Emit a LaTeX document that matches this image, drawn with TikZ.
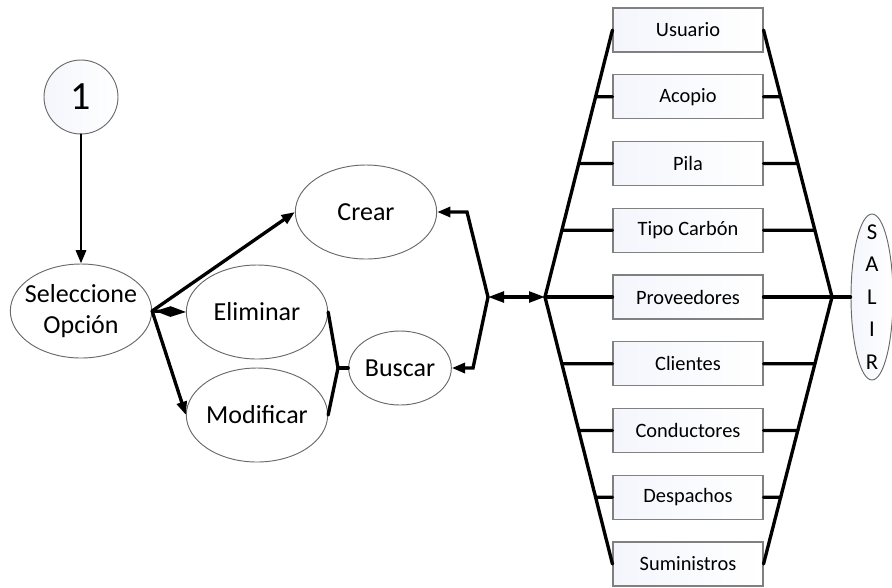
\documentclass[tikz,border=0pt]{standalone}
\usepackage{fontspec}
\setmainfont{Carlito}
\usetikzlibrary{shapes.geometric,arrows.meta}
\definecolor{boxblue}{RGB}{244,246,252}
\definecolor{edgegray}{RGB}{105,105,105}

\begin{document}
\begin{tikzpicture}[x=0.75pt,y=-0.75pt,
	oval/.style={ellipse,draw=edgegray,line width=0.7pt,minimum width=106pt,minimum height=70.5pt,inner sep=0pt},
	ovaltxt/.style={font=\fontsize{19.5}{23.5}\selectfont,align=center},
	soft/.style={left color=boxblue,right color=white},
	menubox/.style={draw=gray,line width=0.8pt,soft,minimum width=112.5pt,minimum height=33pt,font=\fontsize{15.3}{18}\selectfont},
	link/.style={line width=2.5pt,line cap=round},
	arr/.style={link,-{Triangle[length=10pt,width=7.5pt]}}]
			\useasboundingbox (0,0) rectangle (892,587);
			% left part
			\node[circle,draw=edgegray,line width=0.7pt,soft,minimum size=55.5pt,inner sep=0pt,font=\fontsize{30}{36}\selectfont] (one) at (81,97) {1};
			\node[oval,label={[ovaltxt]center:Seleccione\\Opción}] (sel) at (81,311) {};
			\node[oval,label={[ovaltxt]center:Crear}] (crear) at (366,212) {};
			\node[oval,label={[ovaltxt]center:Eliminar}] (elim) at (257,312) {};
			\node[oval,label={[ovaltxt]center:Modificar}] (mod) at (257,415) {};
			\node[oval,minimum width=77pt,minimum height=55.5pt,label={[ovaltxt]center:Buscar}] (buscar) at (400,368) {};
			% menu
			\foreach \name [count=\i] in {Usuario,Acopio,Pila,Tipo Carbón,Proveedores,Clientes,Conductores,Despachos,Suministros}
				\node[menubox] (b\i) at (688,{30+(\i-1)*66.75}) {\name};
			\node[ellipse,draw=edgegray,line width=0.7pt,soft,minimum width=31.5pt,minimum height=124.5pt,inner sep=0pt,
				label={[font=\fontsize{17}{24.4}\selectfont,align=center]center:S\\A\\L\\I\\R}] (salir) at (872,297) {};
			\coordinate (jb) at (338,368);
			\coordinate (jc) at (488,297);
			\coordinate (cu) at (467,212);
			\coordinate (cd) at (473,368);
			\coordinate (jl) at (545,297);
			\coordinate (jr) at (832,297);
			% connectors
			\draw[arr,line width=2.2pt] (one) -- (sel);
			\draw[arr] (sel.east) -- (crear.west);
			\draw[link,-{Diamond[length=23pt,width=8pt]}] (sel.east) -- (elim.west);
			\draw[arr] (sel.east) -- (mod.west);
			\draw[link] (elim.east) -- (jb) -- (mod.east);
			\draw[link] (jb) -- (buscar.west);
			\draw[arr] (jc) -- (cu) -- (crear.east);
			\draw[arr] (jc) -- (cd) -- (buscar.east);
			\draw[link,{Triangle[length=12pt,width=8pt]}-{Triangle[length=12pt,width=8pt]}] (jc) -- (jl);
			\draw[link] (b1.west) -- (jl) -- (b9.west);
			\draw[link] (b1.east) -- (jr) -- (b9.east);
			\draw[link] (jl) -- (b5.west);
			\draw[link] (b5.east) -- (salir.west);
			\foreach \i in {2,3,4} {
				\draw[link] (b\i.west) -- (intersection of jl--b1.west and b\i.west--b\i.east);
				\draw[link] (b\i.east) -- (intersection of jr--b1.east and b\i.west--b\i.east);
			}
			\foreach \i in {6,7,8} {
				\draw[link] (b\i.west) -- (intersection of jl--b9.west and b\i.west--b\i.east);
				\draw[link] (b\i.east) -- (intersection of jr--b9.east and b\i.west--b\i.east);
			}
	\end{tikzpicture}
\end{document}
